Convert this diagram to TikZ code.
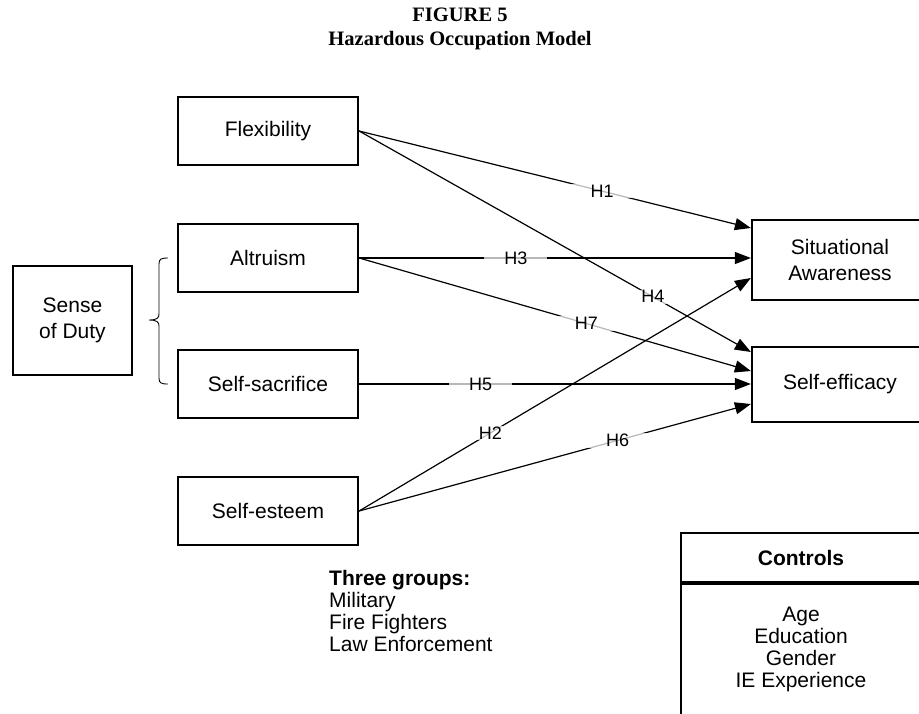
\documentclass[tikz,border=0pt]{standalone}
\usepackage{fontspec}
\setmainfont{Liberation Sans}
\newfontfamily\titlefont{Liberation Serif}
\usetikzlibrary{arrows.meta,calc}
\tikzset{
  box/.style={draw, line width=2.2pt, minimum width=180pt, minimum height=68pt, inner sep=0pt, align=center, font=\fontsize{21}{26}\selectfont},
  arr/.style={line width=1.2pt, -{Triangle[length=16pt,width=12pt]}},
  hl/.style={fill=white, fill opacity=0.72, text opacity=1, inner xsep=20pt, inner ysep=1pt, font=\fontsize{18}{20}\selectfont},
  plain/.style={inner sep=0pt, align=left, font=\fontsize{21}{22}\selectfont}
}
\begin{document}
\begin{tikzpicture}[x=1pt,y=-1pt]
\useasboundingbox (0,0) rectangle (919,713);
% title
\node[inner sep=0pt, align=center, font=\titlefont\bfseries\fontsize{20.5}{24}\selectfont] (title) at (460,29) {FIGURE 5\\Hazardous Occupation Model};
% left boxes
\node[box] (flex) at (268,131) {Flexibility};
\node[box] (alt) at (268,258) {Altruism};
\node[box] (sac) at (268,384) {Self-sacrifice};
\node[box] (est) at (268,511) {Self-esteem};
\node[box, minimum width=119pt, minimum height=109pt] (duty) at (72.5,320.5) {Sense\\of Duty};
% brace
\draw[line width=0.9pt] (168,258) .. controls (161,258) and (159,259) .. (159,264) -- (159,314)
  .. controls (159,318) and (157,320) .. (149,320) .. controls (157,320) and (159,322) .. (159,326)
  -- (159,378) .. controls (159,383) and (161,384) .. (168,384);
% right boxes
\node[box, minimum width=176pt, minimum height=80pt] (sa) at (840,260) {Situational\\Awareness};
\node[box, minimum width=176pt, minimum height=75pt] (se) at (840,384.5) {Self-efficacy};
% arrows
\draw[arr] (flex.east) -- node[pos=0.62, hl]{H1} ([yshift=32pt]sa.west);
\draw[arr] (flex.east) -- node[pos=0.75, hl]{H4} ([yshift=32.5pt]se.west);
\draw[arr] (alt.east) -- node[pos=0.40, hl]{H3} ([yshift=2pt]sa.west);
\draw[arr] (alt.east) -- node[pos=0.58, hl]{H7} ([yshift=13.5pt]se.west);
\draw[arr] (sac.east) -- node[pos=0.31, hl]{H5} ([yshift=0.5pt]se.west);
\draw[arr] (est.east) -- node[pos=0.335, hl]{H2} ([yshift=-18pt]sa.west);
\draw[arr] (est.east) -- node[pos=0.66, hl]{H6} ([yshift=-19.5pt]se.west);
% three groups
\node[plain, anchor=north west] (groups) at (329,570) {\textbf{Three groups:}\\Military\\Fire Fighters\\Law Enforcement};
% controls
\node[draw, line width=2.2pt, minimum width=240pt, minimum height=49pt, inner sep=0pt, font=\bfseries\fontsize{21}{24}\selectfont] (ctrlhead) at (801,557.5) {Controls};
\node[draw, line width=2.2pt, minimum width=240pt, minimum height=160pt, inner sep=0pt, anchor=north] (ctrlbody) at (ctrlhead.south) {};
\node[inner sep=0pt, align=center, font=\fontsize{21}{22}\selectfont, anchor=north] (ctrltext) at (801,607) {Age\\Education\\Gender\\IE Experience};
\end{tikzpicture}
\end{document}
